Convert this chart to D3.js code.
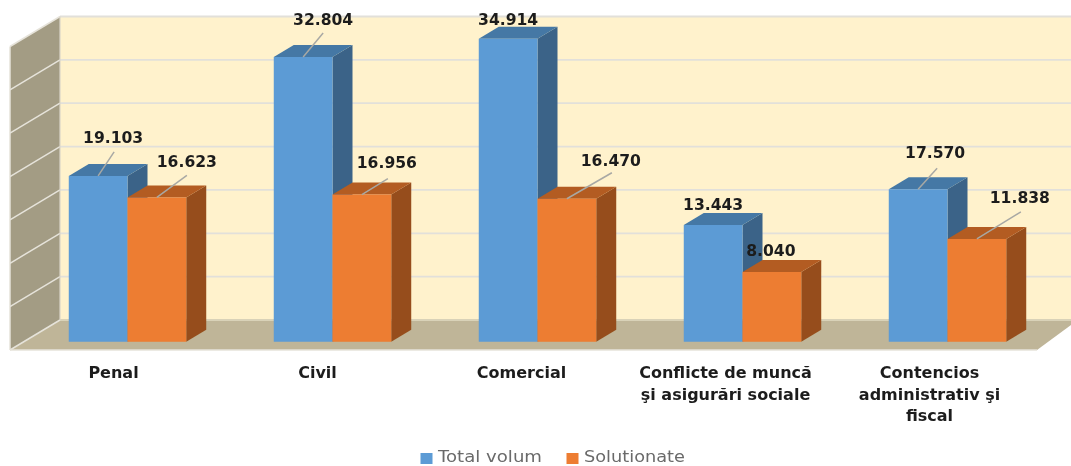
<!DOCTYPE html>
<html><head><meta charset="utf-8">
<style>html,body{margin:0;padding:0;background:#fff}svg{display:block}</style>
<script src="https://cdnjs.cloudflare.com/ajax/libs/d3/7.8.5/d3.min.js"></script>
</head><body><div id="c"></div>
<script>
const categories = ["Penal","Civil","Comercial","Conflicte de muncă şi asigurări sociale","Contencios administrativ şi fiscal"];
const categoryLines = [["Penal"],["Civil"],["Comercial"],["Conflicte de muncă","şi asigurări sociale"],["Contencios","administrativ şi","fiscal"]];
const seriesNames = ["Total volum","Solutionate"];
const totalVolum = [19103,32804,34914,13443,17570];
const solutionate = [16623,16956,16470,8040,11838];
const gridTicks = [0,5000,10000,15000,20000,25000,30000,35000];
const labelFormat = v => d3.format(".3f")(v/1000);

const W=1071,H=466;
const svg=d3.select("#c").append("svg").attr("width",W).attr("height",H);
const defs=svg.append("defs");
defs.append("filter").attr("id","soft")
  .attr("filterUnits","userSpaceOnUse").attr("x",0).attr("y",0).attr("width",W).attr("height",H)
  .append("feGaussianBlur").attr("stdDeviation",0.55);
const g=svg.append("g").attr("filter","url(#soft)");

const baseY=341.7, depthX=20, depthY=-12, wallDX=50, wallDY=-30;
const x0=d3.scaleBand().domain(categories).range([25,1050]).paddingInner(0.427).paddingOuter(0.2135);
const x1=d3.scaleBand().domain(seriesNames).range([0,x0.bandwidth()]);
const catX=d3.scaleBand().domain(categories).range([11.5,1031.5]);
const y=d3.scaleLinear().domain([0,35000]).range([baseY,baseY-303.8]);
const wall=d3.scaleLinear().domain([0,35000]).range([320,16.5]);
const wallL=60, wallR=1071;

const poly=(pts,fill)=>g.append("polygon").attr("points",pts.map(p=>p.join(",")).join(" ")).attr("fill",fill);

poly([[wallL,wall(35000)],[wallR,wall(35000)],[wallR,wall(0)],[wallL,wall(0)]],"#FFF2CC");
poly([[wallL,wall(35000)],[wallL-wallDX,wall(35000)-wallDY],[wallL-wallDX,wall(0)-wallDY],[wallL,wall(0)]],"#A39C84");
poly([[wallL,wall(0)],[wallR,wall(0)],[wallR,wall(0)+5],[1037,wall(0)-wallDY],[wallL-wallDX,wall(0)-wallDY]],"#BFB598");

g.selectAll(".g").data(gridTicks).join("line").attr("class","g")
 .attr("x1",wallL).attr("x2",wallR).attr("y1",d=>wall(d)).attr("y2",d=>wall(d))
 .attr("stroke",d=>d===0?"#D9D2B8":"#E2E0DA").attr("stroke-width",1.8);
g.selectAll(".s").data(gridTicks).join("line").attr("class","s")
 .attr("x1",wallL).attr("x2",wallL-wallDX).attr("y1",d=>wall(d)).attr("y2",d=>wall(d)-wallDY)
 .attr("stroke","#E6E3DA").attr("stroke-width",1.5);
g.append("line").attr("x1",wallL).attr("x2",wallL).attr("y1",wall(35000)).attr("y2",wall(0)).attr("stroke","#DAD6C8").attr("stroke-width",1.2);
g.append("line").attr("x1",wallL-wallDX).attr("x2",wallL-wallDX).attr("y1",wall(35000)-wallDY).attr("y2",wall(0)-wallDY).attr("stroke","#E6E3DA").attr("stroke-width",1.5);
g.append("line").attr("x1",wallL-wallDX).attr("x2",1037).attr("y1",wall(0)-wallDY).attr("y2",wall(0)-wallDY).attr("stroke","#E6E3DA").attr("stroke-width",1.5);

const palette=[{front:"#5B9BD5",top:"#4478A5",side:"#3A6388"},{front:"#ED7D31",top:"#B35C20",side:"#964E1C"}];
const series=[totalVolum,solutionate];

categories.forEach((c,i)=>{
  series.forEach((vals,s)=>{
    const xl=x0(c)+x1(seriesNames[s]), xr=xl+x1.bandwidth(), t=y(vals[i]), b=y(0), col=palette[s];
    poly([[xr,t],[xr+depthX,t+depthY],[xr+depthX,b+depthY],[xr,b]],col.side);
    poly([[xl,t],[xl+depthX,t+depthY],[xr+depthX,t+depthY],[xr,t]],col.top);
    poly([[xl,t],[xr,t],[xr,b],[xl,b]],col.front);
  });
});

// data labels: offset from the top-centre of each bar's front face
const labelDX=[[15,30],[20,25],[0,44],[0,-1],[17,43]];
const labelDY=[[-33,-30],[-32,-27],[-14,-33],[-15,-16],[-31,-36]];
const leaderEnd=[[[16,-24],[30,-22]],[[20,-24],[26,-16]],[null,[45,-26]],[null,null],[[19,-21],[44,-27]]];
categories.forEach((c,i)=>{
  series.forEach((vals,s)=>{
    const cx=x0(c)+x1(seriesNames[s])+x1.bandwidth()/2, t=y(vals[i]);
    const e=leaderEnd[i][s];
    if(e) g.append("line").attr("x1",cx).attr("y1",t).attr("x2",cx+e[0]).attr("y2",t+e[1]).attr("stroke","#A8A8A4").attr("stroke-width",1.5);
    g.append("text").attr("x",cx+labelDX[i][s]).attr("y",t+labelDY[i][s]).attr("text-anchor","middle")
      .attr("font-family","'DejaVu Sans'").attr("font-weight","bold").attr("font-size",15.6).attr("fill","#1c1c1c").text(labelFormat(vals[i]));
  });
});

categories.forEach((c,i)=>{
  const cx=catX(c)+catX.bandwidth()/2;
  categoryLines[i].forEach((ln,k)=>{
    g.append("text").attr("x",cx).attr("y",378+k*21.6).attr("text-anchor","middle")
     .attr("font-family","'DejaVu Sans'").attr("font-weight","bold").attr("font-size",16).attr("fill","#1c1c1c").text(ln);
  });
});

const legendX=[420.5,566.5];
const legendLen=[104,101];
seriesNames.forEach((n,s)=>{
  g.append("rect").attr("x",legendX[s]).attr("y",453).attr("width",12).attr("height",11).attr("fill",palette[s].front);
  g.append("text").attr("x",legendX[s]+17.5).attr("y",462.4).attr("font-family","'DejaVu Sans'").attr("font-size",15)
   .attr("textLength",legendLen[s]).attr("lengthAdjust","spacingAndGlyphs").attr("fill","#6a6a6a").text(n);
});
</script></body></html>
